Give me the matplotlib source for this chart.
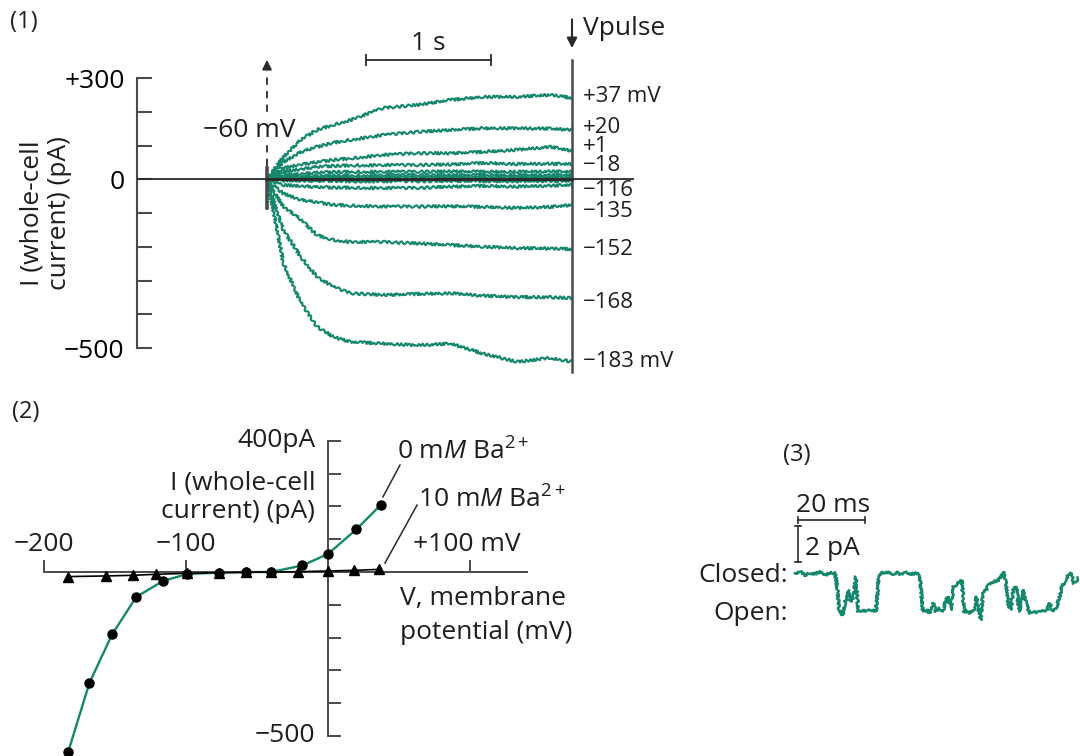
import matplotlib
matplotlib.use('Agg')
import matplotlib.pyplot as plt

# ---- data ----
# (1) whole-cell currents (pA) after a step from -60 mV, time in s
trace_t = [0, 0.05, 0.13, 0.27, 0.4, 0.53, 0.67, 0.93, 1.2, 1.47, 1.73, 2.0, 2.27, 2.44]
trace_p37 = [0, 25, 66, 117, 146, 161, 176, 211, 220, 235, 244, 244, 250, 241]
trace_p20 = [0, 18, 51, 81, 96, 108, 117, 131, 140, 146, 151, 151, 150, 146]
trace_p1 = [0, 12, 33, 44, 51, 57, 62, 72, 77, 77, 81, 87, 96, 84]
trace_m18 = [0, 8, 22, 30, 37, 39, 41, 42, 42, 44, 48, 45, 46, 45]
trace_x1 = [0, 5, 12, 16, 20, 21, 22, 22, 22, 23, 22, 22, 23, 22]
trace_x2 = [0, 3, 6, 8, 10, 10, 11, 12, 12, 12, 12, 12, 12, 12]
trace_x3 = [0, 1, 2, 3, 4, 4, 4, 5, 5, 5, 4, 5, 5, 5]
trace_x4 = [0, -1, -3, -4, -5, -5, -6, -6, -6, -5, -6, -6, -5, -5]
trace_m116 = [0, -8, -17, -20, -23, -25, -25, -26, -26, -22, -20, -22, -19, -17]
trace_m135 = [0, -18, -42, -61, -68, -76, -78, -81, -81, -80, -82, -85, -82, -76]
trace_m152 = [0, -35, -80, -119, -166, -180, -186, -186, -190, -195, -200, -204, -205, -207]
trace_m168 = [0, -60, -150, -230, -289, -319, -338, -343, -340, -338, -345, -349, -350, -352]
trace_m183 = [0, -90, -248, -366, -437, -467, -482, -487, -492, -487, -517, -541, -529, -541]
traces = [trace_p37, trace_p20, trace_p1, trace_m18, trace_x1, trace_x2, trace_x3,
          trace_x4, trace_m116, trace_m135, trace_m152, trace_m168, trace_m183]
pulse_labels = ['+37 mV', '+20', '+1', '−18', '−116', '−135', '−152', '−168', '−183 mV']
pulse_label_y = [244, 154, 98, 40, -32, -97, -207, -364, -541]

# (2) I-V relation
v_0ba = [-183, -168, -152, -135, -116, -99, -77, -58, -40, -18, 0, 20, 37]
i_0ba = [-549, -338, -190, -76, -27, -6, -2, 0, 0, 20, 55, 130, 204]
v_10ba = [-183, -156, -137, -121, -99, -77, -58, -40, -21, 0, 18, 36]
i_10ba = [-14, -12, -10, -7, -4, -2, -1, 0, 1, 3, 5, 8]

# (3) single channel record, time in ms, current in pA (closed = 0)
ch_t = [0, 1.5, 3.0, 4.5, 6.0, 7.5, 9.0, 10.4, 11.9, 12.6, 13.2, 14.2, 14.9, 15.9,
        16.6, 17.4, 18.2, 18.9, 19.9, 21.4, 22.9, 24.2, 24.9, 25.9, 27.4, 28.9,
        30.4, 31.8, 33.3, 34.8, 36.3, 37.3, 38.1, 39.3, 40.3, 41.3, 42.1, 43.1,
        44.1, 45.1, 45.8, 46.5, 47.3, 48.1, 48.9, 49.8, 50.5, 51.2, 52.4, 53.4,
        54.2, 54.8, 55.4, 56.2, 57.0, 57.8, 58.6, 59.4, 60.4, 61.4, 62.2, 63.0,
        63.6, 64.4, 65.2, 66.0, 67.0, 68.0, 69.0, 70.0, 70.9, 72.1, 73.6, 75.1,
        76.1, 76.9, 77.9, 78.9, 79.7, 80.6, 81.6, 82.3, 83.3, 84.6]
ch_i = [0.04, 0.13, -0.06, 0.07, 0.0, 0.13, -0.06, 0.07, 0.04, -0.70, -2.0, -2.28,
        -1.63, -0.89, -1.54, -1.35, -0.15, -2.09, -2.0, -2.09, -1.96, -2.09, -0.24,
        0.04, 0.13, 0.0, 0.07, -0.02, 0.07, 0.0, 0.04, -0.06, -2.09, -2.0, -2.19,
        -1.63, -2.09, -1.91, -2.09, -1.44, -1.26, -2.0, -0.70, -0.61, -0.43, -0.33,
        -2.09, -2.09, -2.15, -2.0, -1.26, -2.09, -2.56, -1.07, -0.89, -0.61, -0.52,
        -0.43, -0.37, -0.24, 0.13, -0.52, -1.63, -2.0, -0.89, -0.70, -2.09, -0.89,
        -1.63, -2.19, -2.09, -2.15, -2.09, -2.0, -1.63, -2.09, -1.91, -1.35, -0.70,
        -0.43, -0.06, 0.04, -0.52, -0.24]

GREEN = '#15876c'
DARK = '#2a2a2a'
GREY = '#4a4a4a'
FS = 19      # main text size
FS_SMALL = 17
FS_PULSE = 16

plt.rcParams['font.family'] = ['Open Sans', 'DejaVu Sans']
plt.rcParams['text.color'] = '#1e1e1e'
plt.rcParams['mathtext.fontset'] = 'custom'
plt.rcParams['mathtext.rm'] = 'Open Sans'
plt.rcParams['mathtext.it'] = 'Open Sans:italic'

W, H = 1080, 756
fig = plt.figure(figsize=(W / 100, H / 100), dpi=100)


def px_axes(x0, y0, x1, y1):
    return fig.add_axes([x0 / W, 1 - y1 / H, (x1 - x0) / W, (y1 - y0) / H])


def bare(ax):
    for s in ax.spines.values():
        s.set_visible(False)
    ax.set_xticks([])
    ax.set_yticks([])
    ax.patch.set_alpha(0)


def noisy(line, scale=1.3, length=5):
    line.set_sketch_params(scale=scale, length=length, randomness=3)


# ---------------- panel (1) ----------------
T0, SPX = 267, 125.0          # px of pulse onset, px per second
I0, PPX = 179.25, 0.3375      # px of 0 pA, px per pA
ax1 = px_axes(137, 0, 700, 390)
bare(ax1)
ax1.set_xlim((137 - T0) / SPX, (700 - T0) / SPX)
ax1.set_ylim((I0 - 390) / PPX, I0 / PPX)

sp = ax1.spines['left']
sp.set_visible(True)
sp.set_bounds(-500, 300)
sp.set_color(GREY)
sp.set_linewidth(1.5)
ax1.set_yticks(range(-500, 301, 100))
ax1.set_yticklabels(['−500', '', '', '', '', '0', '', '', '+300'])
ax1.tick_params(axis='y', direction='in', length=11, width=1.5, color=GREY,
                labelsize=FS, pad=9)

t_end = trace_t[-1]
ax1.plot([ax1.get_xlim()[0], 2.93], [0, 0], color=DARK, lw=1.3, zorder=3)
for tr in traces:
    ln, = ax1.plot(trace_t, tr, color=GREEN, lw=1.5, zorder=2, clip_on=False)
    noisy(ln)
ax1.plot([0, t_end], [0, 0], color=DARK, lw=2.2, zorder=3)

# Vpulse line and arrow
ax1.plot([t_end, t_end], [353, -570], color=GREY, lw=1.8, clip_on=False)
ax1.annotate('', xy=(t_end, 380), xytext=(t_end, 482),
             arrowprops=dict(arrowstyle='-|>', color=DARK, lw=1.5, mutation_scale=15),
             annotation_clip=False)
ax1.text(2.53, 448, 'Vpulse', fontsize=FS, ha='left', va='center')

# onset marker with dashed arrow
ax1.plot([0, 0], [33, -85], color=GREY, lw=2.6, clip_on=False)
ax1.plot([0, 0], [40, 320], color=DARK, lw=1.3, ls=(0, (4, 3.5)), clip_on=False)
ax1.annotate('', xy=(0, 362), xytext=(0, 318),
             arrowprops=dict(arrowstyle='-|>', color=DARK, lw=1.3, mutation_scale=14),
             annotation_clip=False)
ax1.text(-0.14, 145, '−60 mV', fontsize=FS, ha='center', va='center',
         bbox=dict(fc='white', ec='none', pad=0.3))

# 1 s scale bar
ax1.plot([0.79, 1.79], [353, 353], color=DARK, lw=1.3)
for xb in (0.79, 1.79):
    ax1.plot([xb, xb], [338, 368], color=DARK, lw=1.3)
ax1.text(1.29, 402, '1 s', fontsize=FS, ha='center', va='center')

for lab, yy in zip(pulse_labels, pulse_label_y):
    ax1.text(2.53, yy, lab, fontsize=FS_PULSE, ha='left', va='center')

fig.text(10 / W, 1 - 22 / H, '(1)', fontsize=FS_SMALL, ha='left', va='center')
fig.text(46 / W, 1 - 213 / H, 'I (whole-cell\ncurrent) (pA)', fontsize=FS,
         rotation=90, ha='center', va='center', linespacing=1.12)

# ---------------- panel (2) ----------------
V0, VPX = 328, 1.42           # px of 0 mV, px per mV
J0, JPX = 572, 0.328          # px of 0 pA, px per pA
ax2 = px_axes(30, 420, 560, 756)
bare(ax2)
ax2.set_xlim((30 - V0) / VPX, (560 - V0) / VPX)
ax2.set_ylim((J0 - 756) / JPX, (J0 - 420) / JPX)
for name in ('left', 'bottom'):
    s = ax2.spines[name]
    s.set_visible(True)
    s.set_position(('data', 0))
    s.set_color(GREY)
    s.set_linewidth(1.4)
ax2.spines['left'].set_bounds(-500, 400)
ax2.spines['bottom'].set_bounds(-200, 140)
ax2.set_yticks(range(-500, 401, 100))
ax2.set_xticks([-200, -100, 100])
ax2.tick_params(direction='in', length=9, width=1.4, color=GREY,
                labelleft=False, labelbottom=False)

ax2.plot(v_0ba, i_0ba, color=GREEN, lw=1.7, zorder=2, clip_on=False)
ax2.plot(v_0ba, i_0ba, 'o', color='black', ms=6.5, zorder=4, clip_on=False)
ax2.plot(v_10ba, i_10ba, color='black', lw=1.2, zorder=3)
ax2.plot(v_10ba, i_10ba, '^', color='black', ms=7.5, zorder=4)

ax2.text(-9, 400, '400pA', fontsize=FS, ha='right', va='center')
ax2.text(-9, 271, 'I (whole-cell', fontsize=FS, ha='right', va='center')
ax2.text(-9, 183, 'current) (pA)', fontsize=FS, ha='right', va='center')
ax2.text(-9, -500, '−500', fontsize=FS, ha='right', va='center')
ax2.text(-200, 84, '−200', fontsize=FS, ha='center', va='center')
ax2.text(-100, 84, '−100', fontsize=FS, ha='center', va='center')
ax2.text(60, 84, '+100 mV', fontsize=FS, ha='left', va='center')
ax2.text(51, -80, 'V, membrane', fontsize=FS, ha='left', va='center')
ax2.text(51, -183, 'potential (mV)', fontsize=FS, ha='left', va='center')
ax2.text(48.6, 366, r'0 m$\mathit{M}$ Ba$^{2+}$', fontsize=FS, ha='left', va='center')
ax2.text(63.4, 220, r'10 m$\mathit{M}$ Ba$^{2+}$', fontsize=FS, ha='left', va='center')
ax2.plot([50.7, 38.7], [326, 229], color=DARK, lw=1.1)
ax2.plot([62.7, 40.1], [204, 27], color=DARK, lw=1.1)
fig.text(12 / W, 1 - 412 / H, '(2)', fontsize=FS_SMALL, ha='left', va='center')

# ---------------- panel (3) ----------------
C0, CPX = 795, 3.35           # px of t=0, px per ms
K0, KPX = 574, 18.0           # px of closed level, px per pA
ax3 = px_axes(690, 430, 1080, 680)
bare(ax3)
ax3.set_xlim((690 - C0) / CPX, (1080 - C0) / CPX)
ax3.set_ylim((K0 - 680) / KPX, (K0 - 430) / KPX)

ln, = ax3.plot(ch_t, ch_i, color=GREEN, lw=1.8)
noisy(ln, scale=1.2, length=3)

ax3.plot([0.9, 20.9], [3.0, 3.0], color=DARK, lw=1.2)
for xb in (0.9, 20.9):
    ax3.plot([xb, xb], [2.85, 3.15], color=DARK, lw=1.2)
ax3.plot([0.9, 0.9], [2.67, 0.67], color=DARK, lw=1.2)
for yb in (2.67, 0.67):
    ax3.plot([0.0, 1.8], [yb, yb], color=DARK, lw=1.2)
ax3.text(11.3, 3.83, '20 ms', fontsize=FS, ha='center', va='center')
ax3.text(3.0, 1.44, '2 pA', fontsize=FS, ha='left', va='center')
ax3.text(-2.1, -0.06, 'Closed:', fontsize=FS, ha='right', va='center')
ax3.text(-2.1, -2.17, 'Open:', fontsize=FS, ha='right', va='center')
ax3.text(-3.6, 6.61, '(3)', fontsize=FS_SMALL, ha='left', va='center')

fig.savefig('out.png', dpi=100)
